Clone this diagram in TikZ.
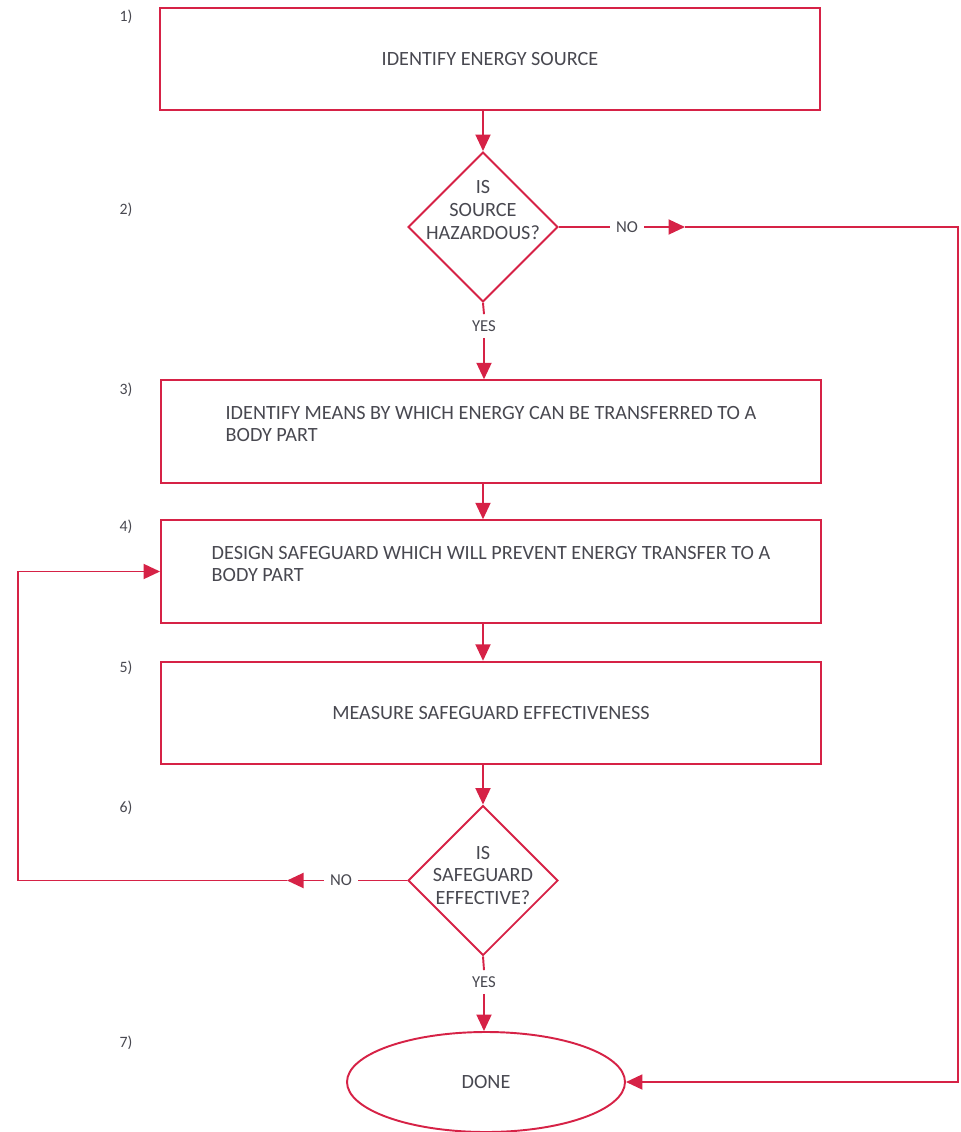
\documentclass[tikz,border=0pt]{standalone}
\usepackage{fontspec}
\setmainfont{Carlito}
\usepackage{xcolor}
\usetikzlibrary{shapes,arrows.meta,positioning}
\definecolor{flowred}{RGB}{214,34,70}
\definecolor{flowtext}{RGB}{72,72,80}

\begin{document}
\begin{tikzpicture}[
    box/.style={rectangle, draw=flowred, line width=1.1pt, minimum width=13.2cm, minimum height=2.05cm, align=left, font=\fontsize{11.5}{13}\selectfont, text=flowtext},
    twoline/.style={text depth=0.3cm},
    decision/.style={diamond, draw=flowred, line width=1.1pt, minimum width=3cm, minimum height=3cm, inner sep=0pt},
    qtext/.style={align=center, font=\fontsize{11.5}{13}\selectfont, text=flowtext},
    terminal/.style={ellipse, draw=flowred, line width=1.1pt, minimum width=5.56cm, minimum height=2cm, font=\fontsize{11.5}{13}\selectfont, text=flowtext},
    lbl/.style={font=\fontsize{9.5}{11}\selectfont, text=flowtext, inner sep=0.12cm},
    num/.style={font=\fontsize{9}{11}\selectfont, text=flowtext},
    link/.style={draw=flowred, line width=1.1pt},
    arrow/.style={link, -{Triangle[length=0.33cm, width=0.3cm]}}
]
\useasboundingbox (0,0) rectangle (19.2,-22.64);

\node[box] (src) at (9.8,-1.18) {IDENTIFY ENERGY SOURCE};
\node[decision, label={[qtext, yshift=0.34cm]center:IS\\SOURCE\\HAZARDOUS?}] (hz) at (9.66,-4.54) {};
\node[box, twoline] (means) at (9.82,-8.63) {IDENTIFY MEANS BY WHICH ENERGY CAN BE TRANSFERRED TO A\\BODY PART};
\node[box, twoline] (des) at (9.82,-11.43) {DESIGN SAFEGUARD WHICH WILL PREVENT ENERGY TRANSFER TO A\\BODY PART};
\node[box] (meas) at (9.82,-14.26) {MEASURE SAFEGUARD EFFECTIVENESS};
\node[decision, label={[qtext, yshift=0.1cm]center:IS\\SAFEGUARD\\EFFECTIVE?}] (eff) at (9.66,-17.61) {};
\node[terminal] (done) at (9.72,-21.64) {DONE};

\node[lbl] (no1) at (12.54,-4.54) {NO};
\node[lbl] (yes1) at (9.68,-6.52) {YES};
\node[lbl] (no2) at (6.82,-17.61) {NO};
\node[lbl] (yes2) at (9.68,-19.64) {YES};

\foreach \n/\y in {1/0.34, 2/4.2, 3/7.8, 4/10.54, 5/13.36, 6/16.16, 7/20.86}
    \node[num] (n\n) at (2.52,-\y) {\n)};

\coordinate (na) at (13.7,-4.54);
\coordinate (rc) at (19.16,-4.54);
\coordinate (nb) at (5.74,-17.61);
\coordinate (lc) at (0.36,-17.61);

\draw[arrow] (src.south -| hz.north) -- (hz.north);
\draw[link] (hz.east) -- (no1.west);
\draw[arrow] (no1.east) -- (na);
\draw[arrow] (na) -- (rc) |- (done.east);
\draw[link] (hz.south) -- (yes1.north);
\draw[arrow] (yes1.south) -- (means.north -| yes1.south);
\draw[arrow] (means.south -| hz.south) -- (des.north -| hz.south);
\draw[arrow] (des.south -| hz.south) -- (meas.north -| hz.south);
\draw[arrow] (meas.south -| eff.north) -- (eff.north);
\draw[link] (eff.west) -- (no2.east);
\draw[arrow] (no2.west) -- (nb);
\draw[arrow] (nb) -- (lc) |- (des.west);
\draw[link] (eff.south) -- (yes2.north);
\draw[arrow] (yes2.south) -- (done.north -| yes2.south);
\end{tikzpicture}
\end{document}
